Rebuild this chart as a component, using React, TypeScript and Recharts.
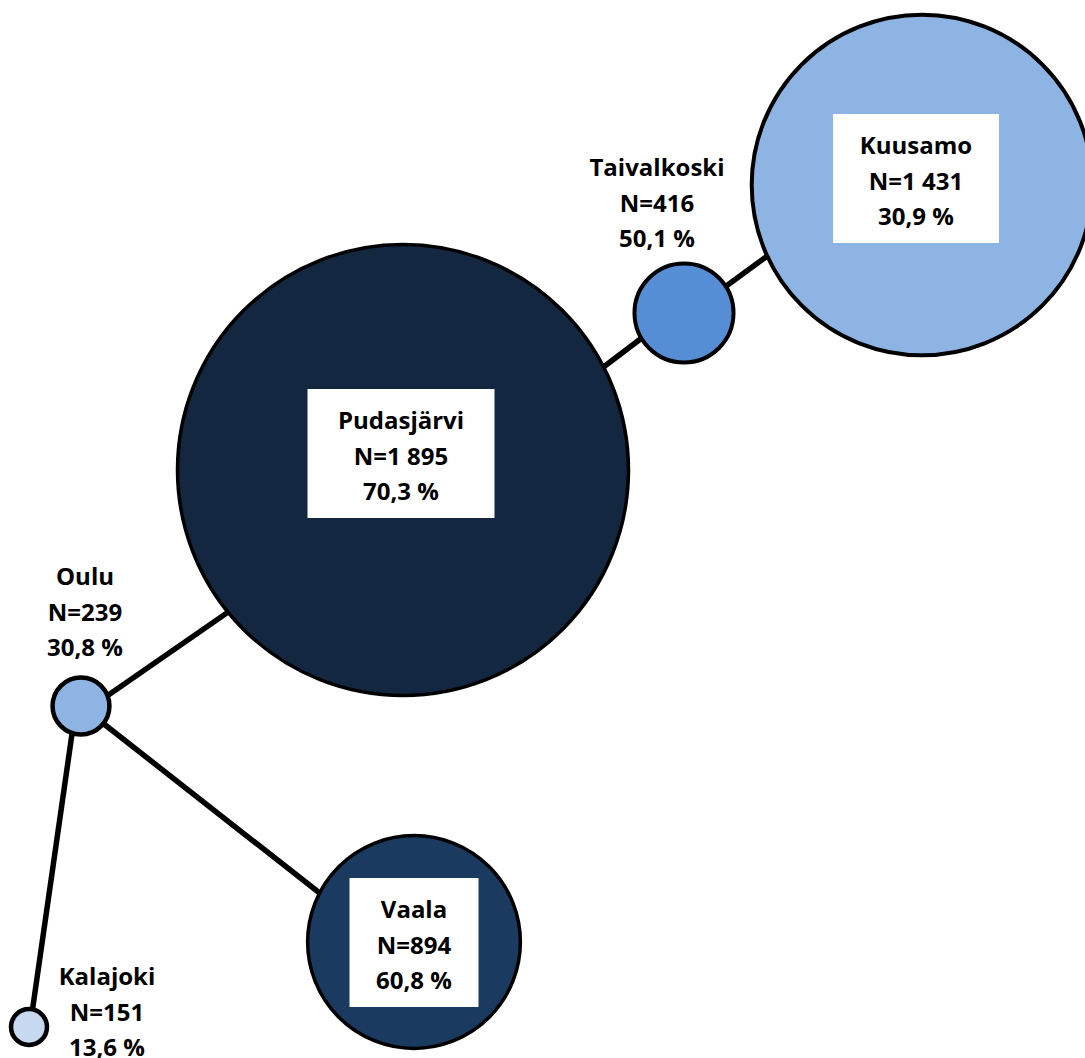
import React from 'react';
import { ScatterChart, Scatter, XAxis, YAxis } from 'recharts';

// ---- data ----
const names = ['Kuusamo', 'Taivalkoski', 'Pudasjärvi', 'Oulu', 'Vaala', 'Kalajoki'];
const nValues = [1431, 416, 1895, 239, 894, 151];
const pctValues = [30.9, 50.1, 70.3, 30.8, 60.8, 13.6];
// node positions in diagram coordinates
const nodeX = [922, 684, 403, 81, 414, 29];
const nodeY = [185, 313, 470, 706, 942, 1027];
// connectors (start / end points in diagram coordinates)
const edgeStart = [
  { x: 560, y: 400 },
  { x: 684, y: 317 },
  { x: 81, y: 714 },
  { x: 81, y: 706 },
  { x: 76, y: 706 },
];
const edgeEnd = [
  { x: 684, y: 306 },
  { x: 800, y: 232 },
  { x: 260, y: 590 },
  { x: 340, y: 909 },
  { x: 29, y: 1034 },
];

// ---- layout / style ----
const W = 1085;
const H = 1058;
const R_PER_N = 0.119;
const nodeColors = ['#8EB4E3', '#558ED5', '#132741', '#8EB4E3', '#1A3A5F', '#C6D9F1'];
const nodeStroke = [4, 4, 3.5, 4.5, 3.5, 4.5];
const labelX = [916, 657, 401, 85, 414, 107];
const labelY = [154, 176, 429, 585, 918, 985];
const boxWidths = [166, 0, 187, 0, 129, 0];
const LINE_H = 35.5;
const FONT = '"Open Sans", "DejaVu Sans", sans-serif';

const fmtN = (n: number) =>
  n >= 1000 ? `N=${Math.floor(n / 1000)} ${String(n % 1000).padStart(3, '0')}` : `N=${n}`;
const fmtPct = (p: number) => `${p.toFixed(1).replace('.', ',')} %`;

const nodes = names.map((name, i) => ({
  name,
  n: nValues[i],
  pct: pctValues[i],
  x: nodeX[i],
  y: nodeY[i],
  color: nodeColors[i],
  sw: nodeStroke[i],
}));

const labels = names.map((name, i) => ({
  name,
  x: labelX[i],
  y: labelY[i],
  lines: [name, fmtN(nValues[i]), fmtPct(pctValues[i])],
  box: boxWidths[i],
}));

const NodeShape = (props: any) => {
  const { cx, cy, payload } = props;
  const r = payload.n * R_PER_N;
  return <circle cx={cx} cy={cy} r={r} fill={payload.color} stroke="#000" strokeWidth={payload.sw} />;
};

const LabelShape = (props: any) => {
  const { cx, cy, payload } = props;
  return (
    <g>
      {payload.box > 0 && (
        <rect x={cx - payload.box / 2} y={cy - 40} width={payload.box} height={129} fill="#FFFFFF" />
      )}
      {payload.lines.map((t: string, k: number) => (
        <text
          key={k}
          x={cx}
          y={cy + k * LINE_H}
          textAnchor="middle"
          fontFamily={FONT}
          fontWeight={700}
          fontSize={24}
          fill="#000"
        >
          {t}
        </text>
      ))}
    </g>
  );
};

const Empty = () => <g />;

export default function App() {
  return (
    <div style={{ position: 'absolute', left: 0, top: 0, width: W, height: H, background: '#fff' }}>
      <ScatterChart width={W} height={H} margin={{ top: 0, right: 0, bottom: 0, left: 0 }}>
        <XAxis type="number" dataKey="x" domain={[0, W]} hide allowDataOverflow />
        <YAxis type="number" dataKey="y" domain={[0, H]} reversed hide allowDataOverflow />
        {edgeStart.map((s, i) => (
          <Scatter
            key={`e${i}`}
            data={[s, edgeEnd[i]]}
            line={{ stroke: '#000', strokeWidth: 5.5 }}
            shape={<Empty />}
            isAnimationActive={false}
          />
        ))}
        <Scatter data={nodes} shape={<NodeShape />} isAnimationActive={false} />
        <Scatter data={labels} shape={<LabelShape />} isAnimationActive={false} />
      </ScatterChart>
    </div>
  );
}
